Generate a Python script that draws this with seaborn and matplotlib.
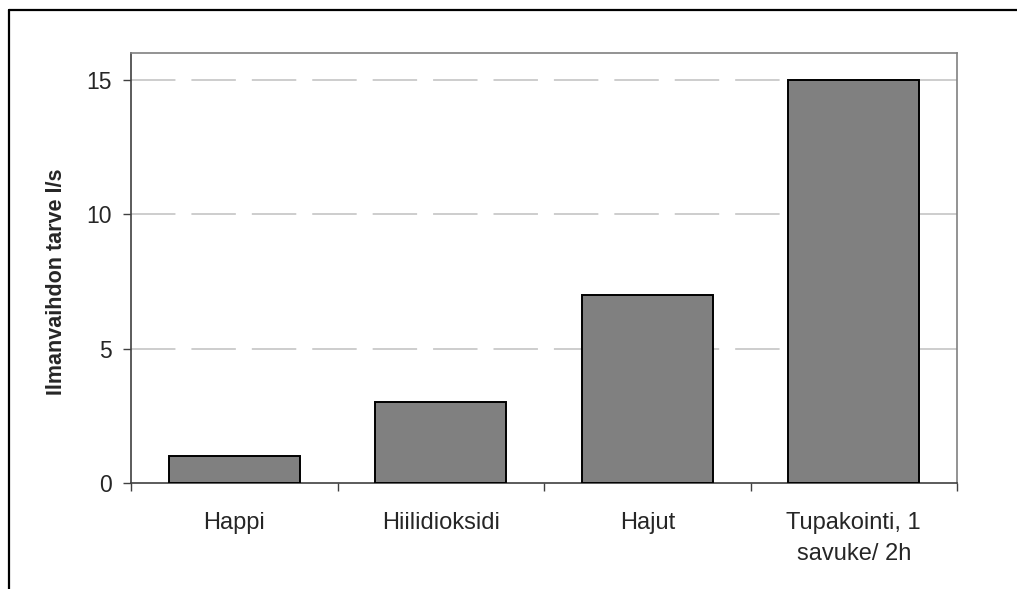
import matplotlib
matplotlib.use("Agg")
import matplotlib.pyplot as plt
from matplotlib.lines import Line2D
import seaborn as sns
import pandas as pd

# Ventilation need per person, l/s
categories = ["Happi", "Hiilidioksidi", "Hajut", "Tupakointi, 1\nsavuke/ 2h"]
values = [1, 3, 7, 15]
y_ticks = [0, 5, 10, 15]
y_label = "Ilmanvaihdon tarve l/s"

sns.set_theme(style="white")
plt.rcParams["font.family"] = ["Liberation Sans", "DejaVu Sans"]
plt.rcParams["lines.scale_dashes"] = False

df = pd.DataFrame({"kategoria": categories, "arvo": values})

fig = plt.figure(figsize=(10.17, 5.89), dpi=100)
ax = fig.add_axes([131 / 1017, 106 / 589, 826 / 1017, 430 / 589])

sns.barplot(data=df, x="kategoria", y="arvo", ax=ax, color="#808080",
            saturation=1, width=0.634, edgecolor="black", linewidth=1.4,
            zorder=3)

ax.set_xlim(-0.5, len(categories) - 0.5)
ax.set_ylim(0, 16)
ax.set_yticks(y_ticks)
ax.set_yticklabels([str(v) for v in y_ticks], fontsize=16.5)

# category separators as ticks on the x axis
ax.set_xticks(range(len(categories)))
ax.set_xticklabels(categories, fontsize=17, linespacing=1.5)
ax.set_xticks([i - 0.5 for i in range(len(categories) + 1)], minor=True)
ax.tick_params(axis="x", which="major", length=0, pad=21)
ax.tick_params(axis="x", which="minor", length=6, width=1, color="#404040",
               direction="out", bottom=True)
ax.tick_params(axis="y", length=6, width=1, color="#404040", direction="out",
               left=True, pad=8)

ax.set_xlabel("")
ax.set_ylabel(y_label, fontsize=15.5, fontweight="bold")
ax.yaxis.set_label_coords(-0.0775, 0.467)

# dashed horizontal gridlines
for v in y_ticks[1:]:
    ax.axhline(v, color="#c0c0c0", linewidth=1.1, linestyle=(0, (32, 11.5)),
               zorder=1)

for side in ["top", "right"]:
    ax.spines[side].set_color("#808080")
    ax.spines[side].set_linewidth(1.2)
ax.spines["left"].set_color("#404040")
ax.spines["left"].set_linewidth(1.2)
ax.spines["bottom"].set_color("#404040")
ax.spines["bottom"].set_linewidth(1.2)

# outer chart frame
W, H = 1017, 589
fig.add_artist(Line2D([8.5 / W, 8.5 / W], [0, 1 - 10 / H], transform=fig.transFigure,
                      color="black", linewidth=1.6))
fig.add_artist(Line2D([8.5 / W, 1], [1 - 10 / H, 1 - 10 / H], transform=fig.transFigure,
                      color="black", linewidth=1.6))

fig.savefig("out.png", dpi=100, facecolor="white")
